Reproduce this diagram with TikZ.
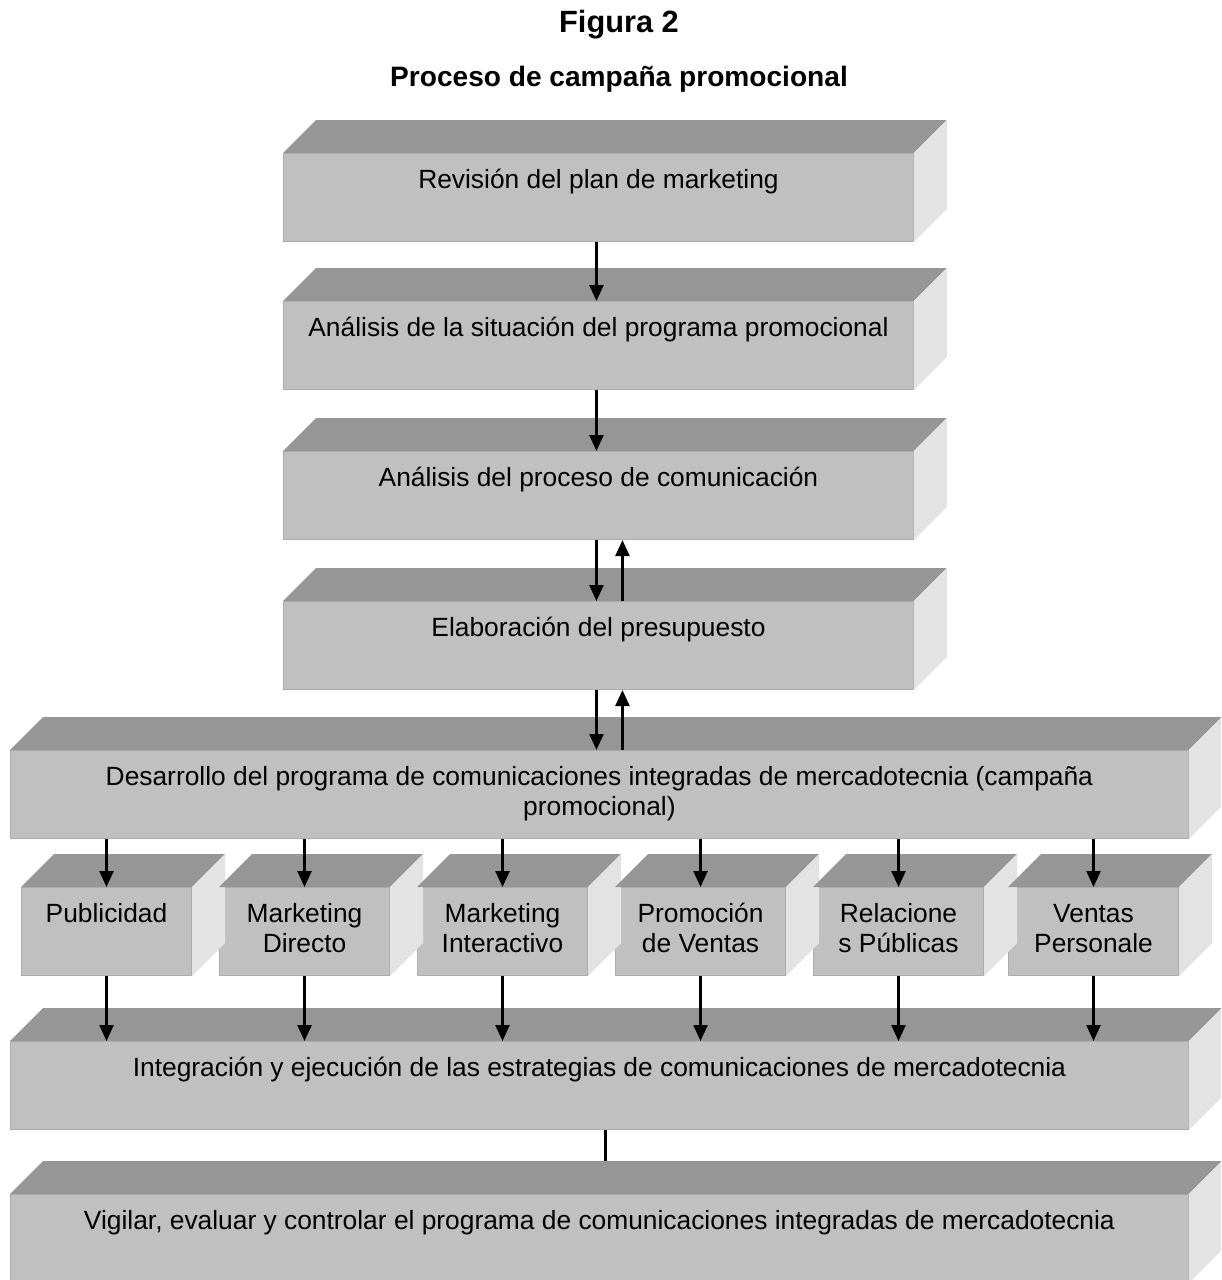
\documentclass[tikz,border=0pt]{standalone}
\usepackage{fontspec}
\setmainfont{Liberation Sans}
\usetikzlibrary{arrows.meta}
\usetikzlibrary{positioning}

\definecolor{frontgray}{HTML}{C0C0C0}
\definecolor{topgray}{HTML}{969696}
\definecolor{sidegray}{HTML}{E3E3E3}
\definecolor{edgegray}{HTML}{ADADAD}

\newcommand\facedepth{0.66cm}

\tikzset{
    frontbox/.style={
        rectangle, anchor=north west,
        minimum height=1.76cm,
        inner xsep=0pt, inner ysep=0pt,
        text height=0.70cm, text depth=1.06cm,
        fill=frontgray, draw=edgegray, line width=0.6pt,
        font=\fontsize{15}{17}\selectfont, align=center,
        text=black,
    },
    twoline/.style={text height=1.30cm, text depth=0.46cm},
    smallbox/.style={frontbox, minimum width=3.4cm},
    titletext/.style={font=\fontsize{16}{19}\selectfont\bfseries, text=black},
    flowarrow/.style={-{Triangle[width=0.28cm,length=0.32cm]}, line width=1.4pt},
}

\begin{document}
\begin{tikzpicture}[x=0.02cm, y=-0.02cm]
        \useasboundingbox (0,0) rectangle (1221,1280);
        \clip (0,0) rectangle (1221,1280);

        \node (figura) at(619,25) [titletext, font=\fontsize{17.5}{20}\selectfont\bfseries] {Figura 2};
        \node (titulo) at(619,79) [titletext] {Proceso de campaña promocional};

        % main column
        \node (revision) at(283,153) [frontbox, minimum width=12.6cm]
            {Revisión del plan de marketing};
        \node (situacion) at(283,301) [frontbox, minimum width=12.6cm]
            {Análisis de la situación del programa promocional};
        \node (comunicacion) at(283,451) [frontbox, minimum width=12.6cm]
            {Análisis del proceso de comunicación};
        \node (presupuesto) at(283,601) [frontbox, minimum width=12.6cm]
            {Elaboración del presupuesto};
        \node (desarrollo) at(10,750) [frontbox, twoline, minimum width=23.56cm]
            {Desarrollo del programa de comunicaciones integradas de mercadotecnia (campaña\\promocional)};

        % tools row
        \node (publicidad) at(21,887) [smallbox] {Publicidad};
        \node (directo) at(219,887) [smallbox, twoline] {Marketing\\Directo};
        \node (interactivo) at(417,887) [smallbox, twoline] {Marketing\\Interactivo};
        \node (promocion) at(615,887) [smallbox, twoline] {Promoción\\de Ventas};
        \node (relaciones) at(813,887) [smallbox, twoline] {Relacione\\s Públicas};
        \node (ventas) at(1008,887) [smallbox, twoline] {Ventas\\Personale};

        \node (integracion) at(10,1041) [frontbox, minimum width=23.56cm]
            {Integración y ejecución de las estrategias de comunicaciones de mercadotecnia};
        \node (vigilar) at(10,1194) [frontbox, minimum width=23.56cm]
            {Vigilar, evaluar y controlar el programa de comunicaciones integradas de mercadotecnia};

        % top and side faces
        \foreach \b in {revision,situacion,comunicacion,presupuesto,desarrollo,
                publicidad,directo,interactivo,promocion,relaciones,ventas,
                integracion,vigilar} {
            \fill[topgray] (\b.north west) -- ++(\facedepth,\facedepth)
                -- ([shift={(\facedepth,\facedepth)}]\b.north east) -- (\b.north east) -- cycle;
            \fill[sidegray] (\b.north east) -- ++(\facedepth,\facedepth)
                -- ([shift={(\facedepth,\facedepth)}]\b.south east) -- (\b.south east) -- cycle;
        }

        % connectors
        \draw[flowarrow] ([xshift=-0.04cm]revision.south) -- ([xshift=-0.04cm]situacion.north);
        \draw[flowarrow] ([xshift=-0.04cm]situacion.south) -- ([xshift=-0.04cm]comunicacion.north);
        \draw[flowarrow] ([xshift=-0.04cm]comunicacion.south) -- ([xshift=-0.04cm]presupuesto.north);
        \draw[flowarrow] ([xshift=0.48cm]presupuesto.north) -- ([xshift=0.48cm]comunicacion.south);
        \draw[flowarrow] ([xshift=-0.04cm]presupuesto.south) -- ([xshift=-0.04cm]presupuesto.south |- desarrollo.north);
        \draw[flowarrow] ([xshift=0.48cm]presupuesto.south |- desarrollo.north) -- ([xshift=0.48cm]presupuesto.south);

        \foreach \s in {publicidad,directo,interactivo,promocion,relaciones,ventas} {
            \draw[flowarrow] (\s.north |- desarrollo.south) -- (\s.north);
            \draw[flowarrow] (\s.south) -- (\s.south |- integracion.north);
        }

        \coordinate (vigtop) at ([xshift=0.12cm,yshift=\facedepth]vigilar.north);
        \draw[line width=1.4pt] (integracion.south -| vigtop) -- (vigtop);
    \end{tikzpicture}
\end{document}
